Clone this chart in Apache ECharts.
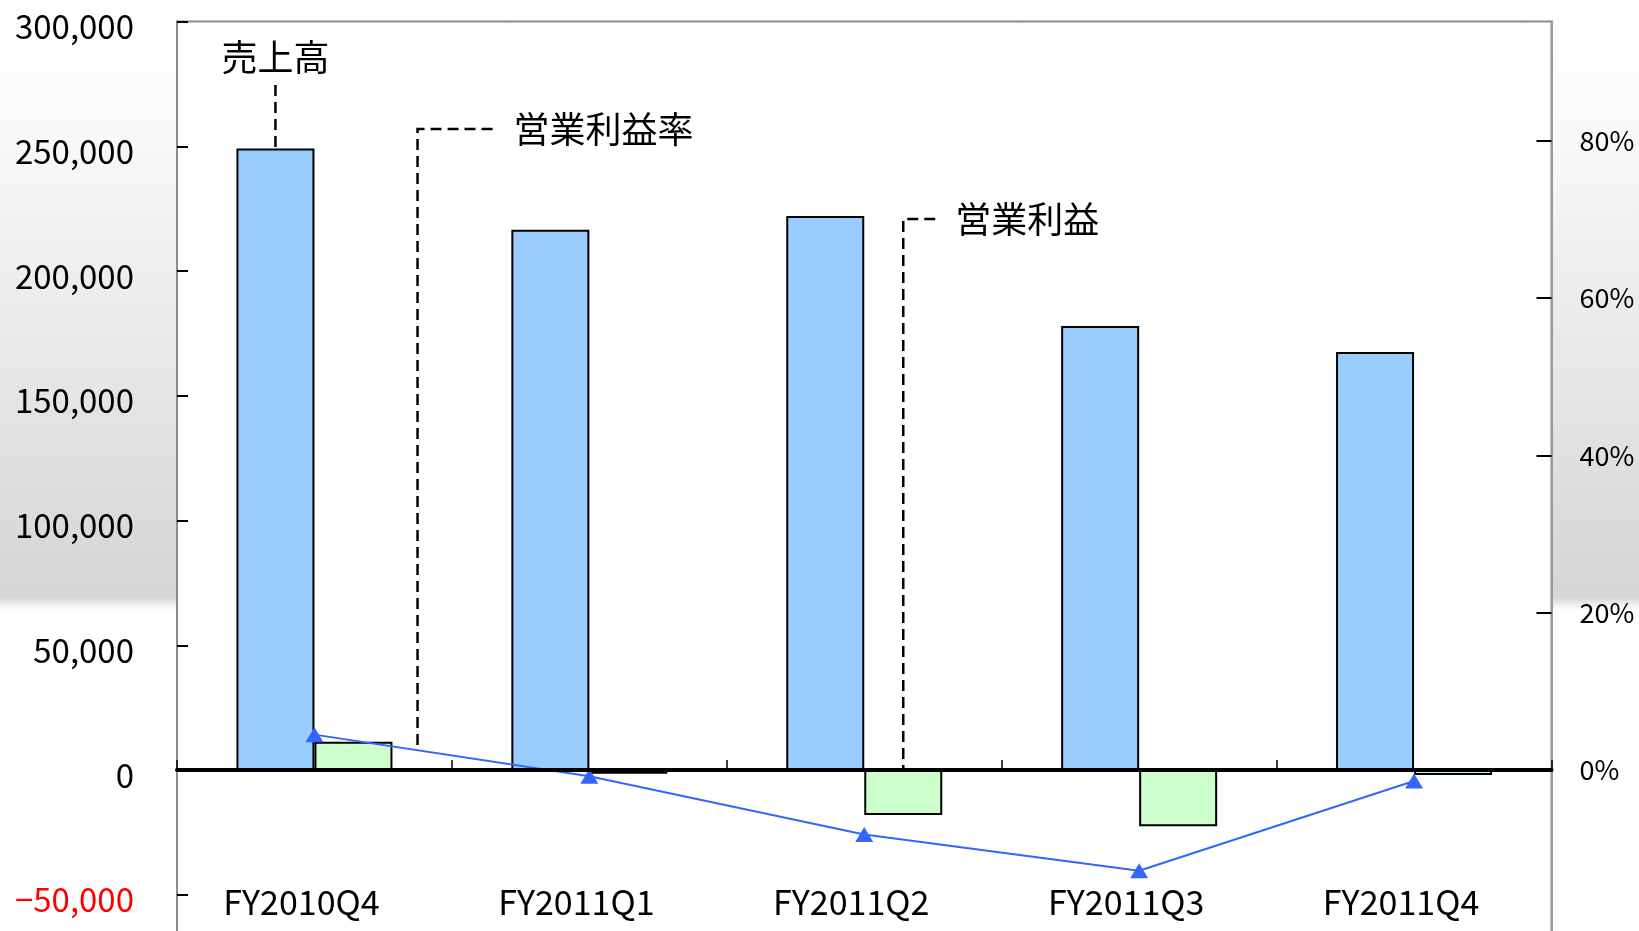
<!DOCTYPE html>
<html>
<head>
<meta charset="utf-8">
<script src="https://cdn.jsdelivr.net/npm/echarts@6/dist/echarts.min.js"></script>
<style>
  html, body { margin: 0; padding: 0; }
  body {
    width: 1639px; height: 931px; overflow: hidden;
    background: linear-gradient(to bottom, #ffffff 0px, #fbfbfb 110px, #f0f0f0 250px, #e3e3e3 420px, #d8d8d8 560px, #d6d6d6 597px, #ffffff 610px, #ffffff 931px);
  }
  #chart { width: 1639px; height: 931px; }
</style>
</head>
<body>
<div id="chart"></div>
<script>
const categories = ['FY2010Q4', 'FY2011Q1', 'FY2011Q2', 'FY2011Q3', 'FY2011Q4'];
const sales = [249100, 216500, 222000, 178000, 167500];          // 売上高
const operatingProfit = [11300, -1500, -18000, -22500, -2000];   // 営業利益
const operatingMargin = [4.5, -0.8, -8.2, -12.8, -1.4];          // 営業利益率 (%)
const rightTicks = [0, 20, 40, 60, 80];
const seriesNames = ['売上高', '営業利益', '営業利益率'];

const FONT = '"Noto Sans CJK JP", "Noto Sans", sans-serif';
const chart = echarts.init(document.getElementById('chart'), null, { renderer: 'canvas' });

const option = {
  animation: false,
  backgroundColor: 'transparent',
  grid: {
    left: 177, right: 87.5, top: 21.5, bottom: -88.5,
    containLabel: false,
    outerBoundsMode: 'none',
    show: true, backgroundColor: '#ffffff', borderColor: '#8c8c8c', borderWidth: 2
  },
  xAxis: [
    {
      type: 'category',
      data: categories,
      boundaryGap: true,
      axisLine: { show: true, onZero: true, onZeroAxisIndex: 0, lineStyle: { color: '#000', width: 4 } },
      axisTick: { show: true, inside: true, length: 10, alignWithLabel: false, lineStyle: { color: '#000', width: 1.5 } },
      axisLabel: { show: false },
      splitLine: { show: false },
      z: 10
    },
    {
      type: 'category',
      data: categories,
      boundaryGap: true,
      position: 'bottom',
      offset: -134.5,
      axisLine: { show: false, onZero: false },
      axisTick: { show: false },
      axisLabel: {
        show: true, margin: 0, fontSize: 34, fontFamily: FONT, color: '#000',
        padding: [0, 26, 0, 0], interval: 0
      },
      splitLine: { show: false }
    }
  ],
  yAxis: [
    {
      type: 'value',
      min: -100000, max: 300000, interval: 50000,
      axisLine: { show: true, lineStyle: { color: '#8c8c8c', width: 2 } },
      axisTick: { show: true, inside: true, length: 11, lineStyle: { color: '#000', width: 2 } },
      axisLabel: {
        margin: 43,
        formatter: function (v) {
          const s = Math.abs(v).toLocaleString('en-US');
          return v < 0 ? '{neg|\u2212' + s + '}' : '{pos|' + s + '}';
        },
        rich: {
          pos: { fontSize: 33, fontFamily: FONT, color: '#000000', padding: [10, 0, 0, 0] },
          neg: { fontSize: 33, fontFamily: FONT, color: '#ff0000', padding: [10, 0, 0, 0] }
        }
      },
      splitLine: { show: false }
    },
    {
      type: 'value',
      min: -31.72, max: 95.17,
      position: 'right',
      axisLine: { show: true, lineStyle: { color: '#9a9a9a', width: 2 } },
      axisTick: { show: true, inside: true, length: 15, customValues: rightTicks, lineStyle: { color: '#000', width: 2 } },
      axisLabel: {
        margin: 28, fontSize: 27, fontFamily: FONT, color: '#000',
        customValues: rightTicks,
        formatter: function (v) { return Math.round(v) + '%'; }
      },
      splitLine: { show: false }
    }
  ],
  series: [
    {
      name: seriesNames[0], type: 'bar', xAxisIndex: 0, yAxisIndex: 0,
      data: sales, barWidth: 78, barGap: '0%',
      itemStyle: { color: '#99ccff', borderColor: '#000', borderWidth: 2 },
      z: 2
    },
    {
      name: seriesNames[1], type: 'bar', xAxisIndex: 0, yAxisIndex: 0,
      data: operatingProfit, barWidth: 78, barGap: '0%',
      itemStyle: { color: '#ccffcc', borderColor: '#000', borderWidth: 2 },
      z: 2
    },
    {
      name: seriesNames[2], type: 'line', xAxisIndex: 0, yAxisIndex: 1,
      data: operatingMargin,
      symbol: 'triangle', symbolSize: [18, 15],
      lineStyle: { color: '#3366ff', width: 2 },
      itemStyle: { color: '#3366ff' },
      z: 5
    }
  ]
};
chart.setOption(option);

// Annotation callouts anchored through the chart's own scales
const barW = 78;
const salesTop = chart.convertToPixel({ xAxisIndex: 0, yAxisIndex: 0 }, [categories[0], sales[0]]);
const zeroQ2 = chart.convertToPixel({ xAxisIndex: 0, yAxisIndex: 0 }, [categories[2], 0]);
const m0 = chart.convertToPixel({ xAxisIndex: 0, yAxisIndex: 1 }, [categories[0], operatingMargin[0]]);
const m1 = chart.convertToPixel({ xAxisIndex: 0, yAxisIndex: 1 }, [categories[1], operatingMargin[1]]);

const salesX = salesTop[0] - barW / 2;
const profitX = zeroQ2[0] + barW / 2;
const marginX = m0[0] + 0.375 * (m1[0] - m0[0]);
const marginY = m0[1] + (marginX - m0[0]) / (m1[0] - m0[0]) * (m1[1] - m0[1]);

const dash = { stroke: '#000', lineWidth: 2.5, lineDash: [11, 6] };
const txt = (x, y, s, align) => ({
  type: 'text', x: x, y: y, z: 100,
  style: { text: s, fontSize: 36, fontFamily: FONT, fill: '#000', align: align, verticalAlign: 'middle' }
});

chart.setOption({
  graphic: [
    txt(salesX, 57, seriesNames[0], 'center'),
    { type: 'polyline', z: 100, shape: { points: [[salesX, 85], [salesX, salesTop[1]]] }, style: dash },
    txt(marginX + 96, 129, seriesNames[2], 'left'),
    { type: 'polyline', z: 100, shape: { points: [[marginX + 75, 129], [marginX, 129], [marginX, marginY - 4]] }, style: dash },
    txt(profitX + 52, 219, seriesNames[1], 'left'),
    { type: 'polyline', z: 100, shape: { points: [[profitX + 32, 219], [profitX, 219], [profitX, zeroQ2[1]]] }, style: dash }
  ]
});
</script>
</body>
</html>
